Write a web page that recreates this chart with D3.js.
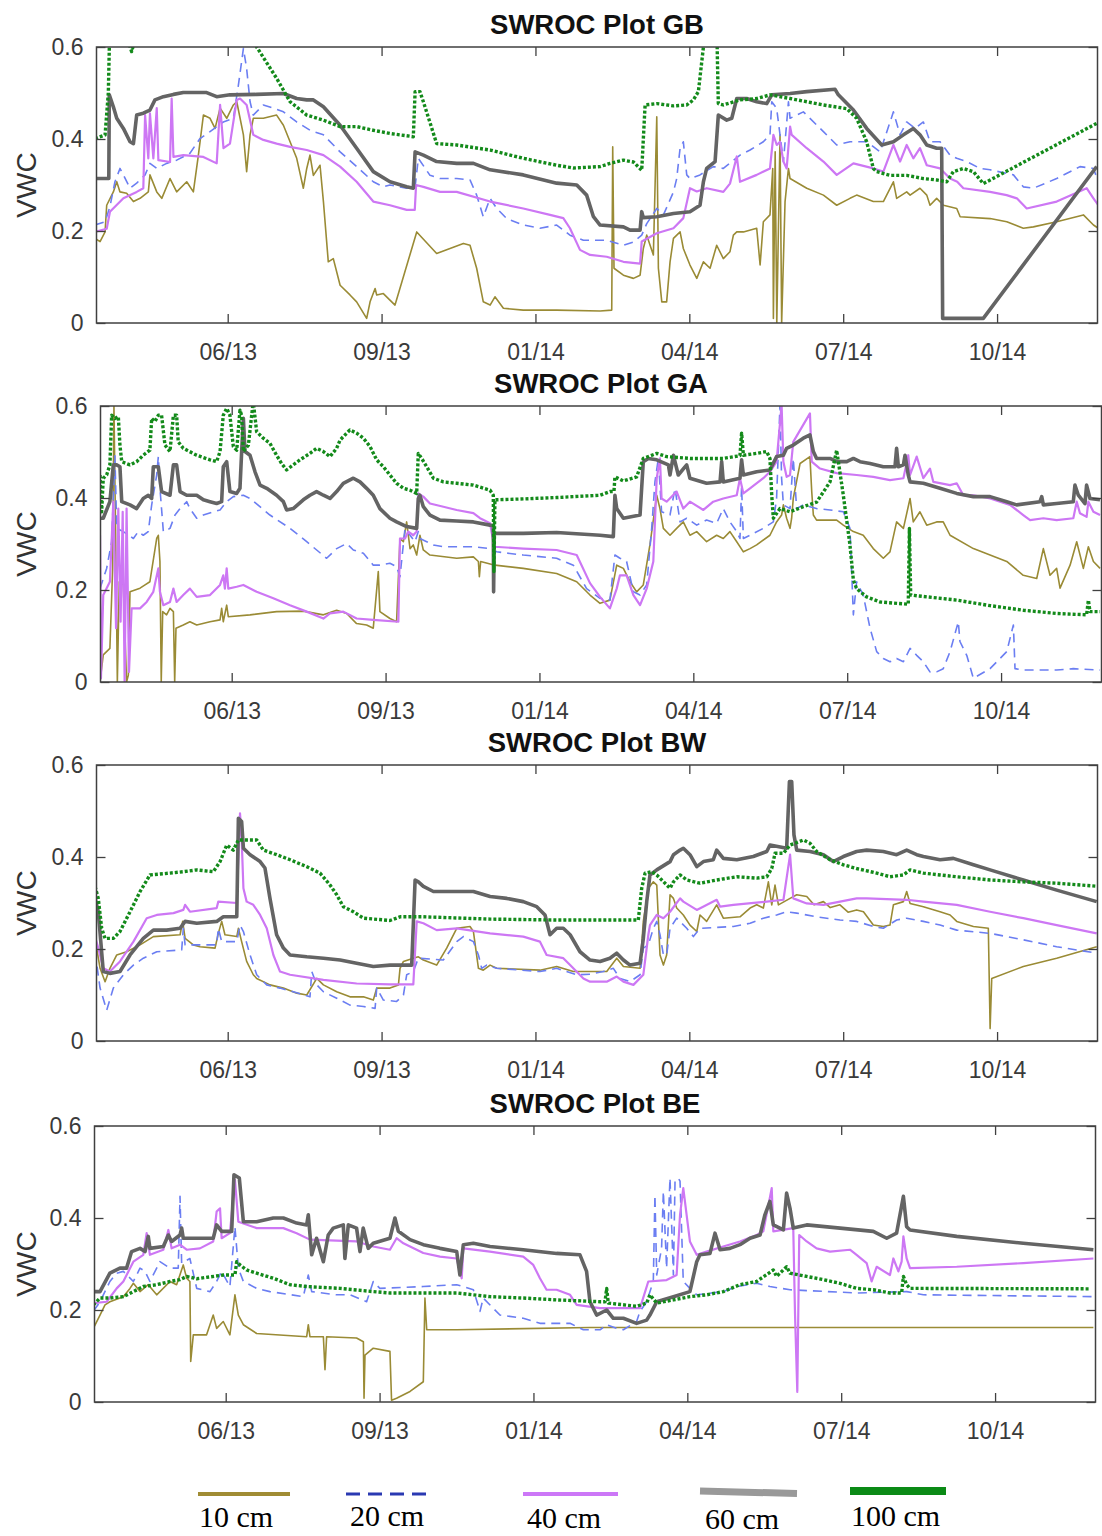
<!DOCTYPE html>
<html>
<head>
<meta charset="utf-8">
<script src="https://cdn.jsdelivr.net/npm/d3@7"></script>
<style>
  body { margin: 0; background: #fff; }
  svg { display: block; }
</style>
</head>
<body>
<svg id="chart" width="1102" height="1536"></svg>
<script>
// Time axis: day numbers counted from 1 Jan 2013; ticks every 95 days.
const dayDomain = [95, 713];
const tickDays = [176, 271, 366, 461, 556, 651];
const tickLabels = ["06/13", "09/13", "01/14", "04/14", "07/14", "10/14"];
const yTicks = [0, 0.2, 0.4, 0.6];
const depths = ["10 cm", "20 cm", "40 cm", "60 cm", "100 cm"];
const plotTitles = ["SWROC Plot GB", "SWROC Plot GA", "SWROC Plot BW", "SWROC Plot BE"];

// ---- Plot GB : [day, VWC] ----
const gb10 = [[94.1,.184],[97.2,.177],[100.3,.198],[101.3,.256],[105.4,.285],[107.5,.307],[109.5,.285],[113.6,.282],[117.8,.264],[121.9,.271],[127,.285],[128,.322],[132.2,.285],[135.3,.271],[140.4,.314],[144.5,.285],[150.7,.307],[154.8,.285],[157.9,.365],[161,.452],[165.1,.445],[168.2,.423],[171.3,.467],[175.4,.445],[179.5,.474],[181.6,.481],[185.7,.409],[187.7,.329],[189.8,.409],[191.8,.445],[198,.445],[206.2,.452],[210.4,.43],[214.5,.394],[218.6,.358],[222.7,.293],[224.8,.336],[226.8,.365],[228.9,.321],[233,.343],[235.1,.264],[238.1,.133],[241.2,.14],[245.4,.082],[251.5,.061],[255.6,.046],[261.8,.01],[263.9,.046],[267,.075],[268,.061],[272.1,.064],[279.3,.039],[292.7,.198],[305,.151],[321.5,.173],[325.6,.169],[329.7,.119],[333.8,.046],[338,.039],[341,.057],[346.2,.032],[358.5,.028],[379.1,.028],[405.9,.026],[413.1,.028],[413.7,.383],[414.5,.119],[420.3,.104],[426.5,.097],[430.6,.104],[432.6,.162],[434.7,.191],[438.8,.148],[440.9,.448],[441.9,.119],[444,.046],[447,.046],[449.1,.133],[451.2,.184],[455.3,.198],[457.3,.162],[461.4,.126],[465.6,.097],[469.7,.133],[473.8,.119],[477.9,.169],[482,.14],[486.1,.155],[488.2,.191],[490.3,.198],[494.4,.198],[502.6,.206],[504.7,.126],[506.7,.22],[510.8,.235],[512.5,.336],[512.9,.01],[514,.372],[515,0],[517,.409],[518,0],[520.1,.264],[522.2,.336],[523.2,.314],[533.5,.293],[543.8,.278],[552,.256],[560.2,.271],[564.3,.278],[574.6,.264],[580.8,.264],[587,.307],[589,.271],[595.2,.285],[597.3,.278],[603.4,.293],[607.6,.278],[609.6,.256],[613.7,.271],[617.9,.256],[626.1,.249],[628.2,.231],[646.7,.227],[657,.22],[667.2,.206],[673.4,.209],[687.8,.22],[704.3,.235],[710.5,.213],[713.5,.206]];
const gb20 = [[94.1,.213],[100.3,.22],[103.3,.253],[106.4,.307],[109.5,.336],[111.6,.322],[115.7,.293],[119.8,.304],[125,.322],[128,.347],[132.2,.336],[138.3,.347],[144.5,.354],[152.7,.369],[158.9,.401],[165.1,.416],[173.3,.437],[179.5,.445],[182.6,.517],[185.7,.597],[187.7,.553],[189.8,.481],[191.8,.452],[198,.474],[204.2,.467],[210.4,.459],[218.6,.437],[226.8,.419],[235.1,.409],[245.4,.372],[255.6,.34],[265.9,.307],[272.1,.296],[276.2,.3],[286.5,.293],[291.7,.296],[293.7,.358],[300.9,.321],[307.1,.314],[317.4,.314],[325.6,.311],[329.7,.278],[333.8,.231],[338,.271],[342.1,.249],[348.3,.227],[358.5,.213],[368.8,.206],[379.1,.213],[387.3,.191],[395.6,.18],[410,.18],[420.3,.169],[426.5,.176],[431.6,.191],[434.7,.216],[440.9,.249],[445,.235],[451.2,.285],[453.2,.314],[455.3,.38],[457.3,.394],[459.4,.322],[461.4,.314],[467.6,.322],[475.8,.34],[482,.336],[492.3,.365],[498.5,.376],[506.7,.394],[510.8,.409],[511.9,.481],[514.9,.467],[519.1,.351],[522.2,.481],[523.2,.445],[531.4,.459],[543.8,.416],[552,.387],[560.2,.394],[570.5,.394],[578.8,.372],[587,.459],[591.1,.409],[595.2,.437],[600.4,.423],[605.5,.437],[609.6,.394],[615.8,.394],[621.9,.365],[626.1,.358],[632.3,.351],[640.5,.336],[646.7,.333],[661.1,.322],[667.2,.296],[673.4,.293],[687.8,.314],[702.2,.34],[710.5,.336],[713.5,.307]];
const gb40 = [[94.1,.198],[101.3,.205],[103.3,.242],[111.6,.271],[119.8,.285],[123.9,.293],[125,.452],[127,.358],[128,.456],[130.1,.358],[132.2,.467],[133.2,.354],[140.4,.35],[141.4,.488],[142.5,.361],[148.6,.365],[161,.361],[169.2,.347],[171.3,.474],[173.4,.38],[177.4,.39],[181.6,.485],[183.6,.488],[187.7,.474],[191.8,.409],[198,.398],[206.2,.39],[214.5,.383],[224.8,.376],[235.1,.365],[245.4,.34],[255.6,.307],[265.9,.264],[276.2,.256],[286.5,.246],[291.5,.246],[292.3,.3],[296.8,.296],[307.1,.285],[317.4,.285],[338,.264],[358.5,.249],[375,.235],[383.2,.228],[387.3,.206],[393.5,.159],[399.7,.148],[410,.144],[420.3,.133],[430.6,.129],[431.6,.177],[440.9,.195],[451.2,.206],[457.3,.228],[461.4,.293],[465.6,.286],[471.7,.293],[482,.285],[486.1,.303],[490.3,.362],[492.3,.307],[502.6,.322],[510.8,.336],[512.9,.409],[515,.387],[517,.394],[519.1,.351],[521.1,.336],[523.2,.427],[524.2,.409],[533.5,.38],[543.8,.351],[552,.322],[562.3,.347],[574.6,.336],[580.8,.329],[587,.387],[591.1,.351],[595.2,.387],[599.3,.358],[603.4,.38],[607.6,.343],[615.8,.336],[622,.314],[626.4,.307],[630.2,.293],[646.7,.285],[656.9,.278],[663.2,.271],[669.3,.249],[687.8,.264],[706.3,.293],[710.5,.271],[713.5,.256]];
const gb60 = [[94.1,.314],[102.6,.314],[102.9,.496],[105.4,.47],[107.5,.445],[111.6,.423],[115.7,.394],[117.8,.39],[119.8,.452],[123.9,.456],[128,.463],[131.1,.485],[136.3,.492],[142.5,.497],[148.6,.501],[163,.501],[169.2,.492],[177.4,.496],[193.9,.497],[210.4,.499],[218.6,.488],[224.8,.485],[228.9,.485],[235.1,.47],[245.4,.43],[255.6,.38],[265.9,.329],[276.2,.307],[286.5,.296],[290.6,.293],[291.7,.372],[296.8,.365],[305,.351],[317.4,.347],[327.7,.347],[338,.333],[358.5,.322],[379.1,.304],[391.5,.3],[397.6,.278],[401.8,.231],[405.9,.213],[420.3,.209],[424.4,.202],[430.6,.202],[431.6,.242],[432.6,.229],[440.9,.231],[451.2,.238],[461.4,.242],[467.6,.256],[469.7,.307],[471.7,.336],[476.9,.351],[478.9,.452],[484.1,.441],[487.2,.445],[490.3,.488],[496.4,.488],[502.6,.481],[508.8,.477],[511.9,.496],[523.2,.499],[533.5,.503],[551,.508],[553,.496],[562.3,.463],[570.5,.423],[579.8,.387],[587,.394],[593.2,.409],[599.3,.423],[603.4,.409],[607.6,.387],[613.7,.38],[616.8,.38],[617.4,.01],[642.5,.01],[712.5,.34]];
const gb100 = [[94.1,.401],[100.3,.409],[102.3,.5],[103.3,.66],[112,.64],[116.7,.59],[119,.62],[125,.7],[150,.78],[180,.7],[190,.64],[193.9,.6],[206.2,.532],[214.5,.481],[224.8,.452],[235.1,.441],[245.4,.427],[255.6,.427],[265.9,.419],[276.2,.412],[290.6,.405],[291.7,.503],[294.7,.503],[296.8,.481],[305,.39],[317.4,.387],[338,.376],[358.5,.358],[379.1,.343],[389.4,.337],[405.9,.34],[412.1,.347],[420.3,.354],[426.5,.35],[431.6,.332],[433.7,.474],[440.9,.477],[451.2,.472],[459.4,.474],[463.5,.485],[466.6,.503],[469.7,.6],[472,.72],[476,.72],[477.9,.65],[478.9,.477],[482,.474],[492.3,.485],[502.6,.488],[510.8,.496],[523.2,.488],[533.5,.481],[543.8,.474],[558.2,.466],[564.3,.445],[570.5,.394],[574.6,.336],[576.7,.329],[584.9,.321],[595.2,.321],[605.5,.314],[613.7,.311],[619.9,.307],[624,.329],[630.2,.336],[636.4,.329],[642.5,.303],[712.5,.434]];

// ---- Plot GA ----
const ga10 = [[94.7,0],[96.7,.059],[100.8,.073],[102.5,.247],[103.3,.602],[104.6,.247],[105.4,0],[106.6,.218],[109.1,.211],[111.1,0],[112.2,.015],[113.2,.196],[119.4,.204],[122.5,.211],[125.5,.218],[129.7,.312],[130.7,.319],[131.7,.262],[132.5,0],[133.4,.153],[135.8,.146],[137.9,.16],[140,.153],[140.8,0],[141.6,.117],[146.1,.124],[150.2,.131],[154.4,.124],[162.6,.131],[168.8,.135],[169.8,.16],[170.8,.131],[172.9,.167],[173.9,.142],[187.3,.146],[203.7,.153],[220.2,.154],[232.6,.146],[240.8,.156],[247,.149],[253.1,.127],[259.3,.124],[263.4,.117],[266.5,.24],[267.5,.153],[273.7,.138],[277.8,.131],[279.9,.312],[282,.305],[284,.348],[286.1,.29],[288.1,.298],[290.2,.276],[292.2,.319],[294.3,.287],[298.4,.276],[314.9,.269],[325.2,.272],[328.3,.262],[328.9,.229],[329.7,.262],[338.5,.254],[356,.247],[376.6,.236],[389,.218],[397.2,.189],[403.4,.171],[409.5,.178],[413.7,.254],[417.8,.247],[421.9,.218],[426,.196],[430.1,.211],[434.2,.298],[438.4,.406],[440.4,.377],[442.5,.334],[446.6,.319],[450.7,.334],[454.8,.348],[458.9,.319],[463.1,.327],[469.2,.305],[475.4,.319],[479.5,.312],[483.6,.327],[487.8,.305],[491.9,.283],[496,.29],[500.1,.298],[508.3,.319],[512.4,.348],[515.5,.363],[516.6,.385],[518.6,.356],[520.7,.334],[521.7,.356],[522.7,.399],[526.9,.475],[533,.49],[534.1,.414],[535.1,.363],[537.1,.352],[549.5,.352],[553.6,.341],[559.8,.327],[565.9,.319],[572.1,.29],[578.3,.269],[582.4,.283],[586.5,.348],[590.7,.334],[594.8,.399],[596.8,.348],[600.9,.37],[605.1,.341],[611.2,.348],[615.3,.348],[619.5,.319],[633.9,.29],[654.5,.262],[664.7,.232],[673,.225],[677.1,.29],[681.2,.232],[685.3,.247],[687.4,.204],[693.6,.254],[697.7,.305],[701.8,.247],[704.9,.294],[708,.262],[712.1,.247]];
const ga20 = [[94.7,.203],[98.8,.247],[101.9,.305],[103.9,.493],[105,.334],[109.1,.327],[115.3,.312],[118.3,.327],[121.4,.319],[124.5,.327],[126.6,.385],[129.7,.45],[130.7,.49],[131.7,.421],[133.8,.327],[137.9,.334],[141,.363],[144.1,.377],[148.2,.392],[150.2,.377],[154.4,.356],[158.5,.363],[164.6,.37],[168.8,.374],[172.9,.392],[177,.403],[183.2,.406],[187.3,.399],[199.6,.363],[212,.334],[222.3,.305],[234.6,.269],[240.8,.29],[247,.301],[251.1,.287],[257.3,.28],[263.4,.254],[267.5,.254],[273.7,.258],[277.8,.251],[279.9,.229],[283,.334],[286.1,.319],[289.2,.305],[291.2,.327],[292.2,.312],[296.4,.305],[300.5,.298],[306.7,.294],[325.2,.294],[335.5,.29],[339.6,.283],[356,.276],[376.6,.269],[386.9,.254],[395.1,.203],[403.4,.182],[409.5,.178],[412.6,.276],[415.7,.269],[419.8,.262],[424,.196],[428.1,.189],[432.2,.211],[435.3,.334],[437.3,.435],[439.4,.486],[441.4,.37],[446.6,.363],[449.7,.421],[452.8,.348],[456.9,.356],[463.1,.341],[469.2,.352],[475.4,.345],[479.5,.377],[483.6,.348],[487.8,.327],[489.8,.312],[490.8,.425],[491.9,.312],[496,.319],[504.2,.334],[510.4,.348],[512.4,.399],[514.5,.602],[515.5,.443],[516.6,.385],[520.7,.377],[522.7,.486],[524.8,.377],[528.9,.385],[537.1,.377],[545.4,.374],[553.6,.37],[557.7,.334],[559.8,.146],[561.8,.218],[565.9,.189],[570.1,.117],[574.2,.066],[578.3,.051],[582.4,.044],[586.5,.051],[590.7,.044],[594.8,.073],[598.9,.058],[603,.044],[607.1,.022],[611.2,.022],[615.3,.029],[619.5,.066],[624.6,.131],[625.6,.088],[629.8,.058],[633.9,.008],[644.2,.029],[654.5,.066],[658.6,.124],[659.6,.029],[664.7,.026],[685.3,.026],[695.6,.029],[712.1,.026]];
const ga40 = [[94.7,.319],[95.3,.008],[96.7,.189],[100.8,.218],[102.9,.392],[104.6,.117],[106,.377],[107.4,.131],[108.7,.37],[109.9,0],[111.1,.377],[112.6,.022],[114.2,.16],[119.4,.16],[123.5,.174],[127.6,.196],[130.7,.247],[131.7,.196],[133.8,.167],[137.9,.174],[140,.203],[142,.174],[146.1,.189],[150.2,.203],[154.4,.185],[162.6,.189],[168.8,.211],[170.8,.232],[171.8,.203],[172.9,.247],[173.9,.203],[179.1,.207],[183.2,.211],[191.4,.196],[201.7,.182],[212,.167],[222.3,.153],[232.6,.138],[236.7,.149],[244.9,.153],[253.1,.138],[263.4,.135],[278.9,.131],[279.9,.312],[283,.312],[285,.327],[288.1,.319],[290.2,.327],[291.2,.41],[294.3,.403],[298.4,.388],[306.7,.381],[314.9,.374],[325.2,.367],[329.3,.356],[335.5,.345],[338.1,.294],[356,.29],[376.6,.287],[389,.276],[397.2,.215],[403.4,.185],[409.5,.16],[413.7,.203],[415.7,.232],[419.8,.232],[424,.189],[428.1,.167],[432.2,.203],[436.3,.262],[438.4,.443],[440.4,.486],[441.4,.399],[444.5,.392],[450.7,.414],[454.8,.377],[458.9,.392],[467.2,.374],[473.3,.392],[479.5,.399],[487.8,.406],[489.8,.443],[491.9,.41],[496,.421],[504.2,.443],[508.3,.457],[512.4,.479],[515.5,.602],[516.6,.479],[518.6,.446],[520.7,.45],[522.7,.522],[533,.584],[534.1,.479],[539.2,.464],[549.5,.454],[561.8,.45],[572.1,.446],[582.4,.439],[590.7,.443],[593.7,.493],[594.8,.45],[598.9,.49],[603,.443],[607.1,.464],[609.2,.435],[619.5,.428],[623.6,.432],[627.7,.406],[633.9,.406],[644.2,.399],[656.5,.385],[664.7,.363],[668.9,.352],[677.1,.356],[685.3,.352],[695.6,.356],[697.7,.392],[699.7,.367],[703.8,.359],[704.9,.392],[708,.37],[712.1,.363]];
const ga60 = [[94.7,.356],[96.7,.356],[100.8,.392],[102.9,.472],[105,.472],[107,.468],[108.1,.392],[113.2,.385],[117.3,.377],[121.4,.399],[124.5,.406],[126.6,.399],[127.6,.468],[130.7,.468],[132.7,.414],[137.9,.406],[140,.472],[142,.472],[144.1,.414],[148.2,.406],[154.4,.406],[158.5,.396],[162.6,.392],[166.7,.388],[169.8,.392],[170.8,.468],[172.9,.479],[174.9,.414],[179.1,.41],[181.1,.421],[182.1,.497],[183.2,.573],[184.2,.501],[187.3,.493],[190.4,.457],[193.5,.428],[197.6,.421],[203.7,.406],[207.9,.392],[209.9,.374],[214,.377],[220.2,.396],[224.3,.406],[228.4,.414],[232.6,.406],[236.7,.399],[240.8,.414],[244.9,.432],[251.1,.443],[255.2,.435],[259.3,.421],[263.4,.406],[267.5,.377],[273.7,.356],[277.8,.348],[284,.338],[290.2,.334],[291.2,.399],[292.2,.406],[294.3,.381],[298.4,.363],[304.6,.352],[314.9,.35],[325.2,.348],[335.5,.341],[337.5,.34],[337.7,.196],[338.1,.323],[356,.323],[376.6,.325],[403.4,.319],[411.6,.316],[412.6,.406],[413.7,.377],[417.8,.356],[428.1,.363],[430.1,.479],[433.2,.486],[438.4,.483],[445.6,.472],[446.6,.45],[448.7,.493],[451.7,.45],[456.9,.472],[458.9,.443],[469.2,.432],[477.5,.435],[478.5,.479],[479.5,.435],[489.8,.443],[490.8,.483],[491.9,.45],[500.1,.457],[508.3,.461],[512.4,.49],[516.6,.493],[518.6,.508],[522.7,.515],[528.9,.53],[533,.537],[535.1,.501],[537.1,.486],[545.4,.486],[549.5,.479],[555.7,.479],[559.8,.486],[563.9,.479],[570.1,.475],[578.3,.468],[585.5,.468],[586.5,.508],[587.6,.468],[590.7,.472],[591.7,.493],[593.7,.45],[594.8,.435],[603,.432],[613.3,.421],[623.6,.41],[633.9,.403],[644.2,.403],[654.5,.392],[660.6,.385],[675,.392],[676.1,.403],[677.1,.385],[685.3,.388],[695.6,.392],[696.6,.428],[698.7,.406],[702.8,.388],[703.8,.428],[705.9,.399],[712.1,.396]];
const ga100 = [[94.7,.45],[95.7,.37],[96.7,.443],[98.8,.45],[100.8,.472],[101.9,.58],[103.9,.573],[106,.577],[107,.515],[108.1,.479],[113.2,.472],[117.3,.479],[121.4,.493],[125.5,.504],[126.6,.573],[128.6,.566],[130.7,.58],[132.7,.58],[134.8,.515],[137.9,.501],[140,.58],[142,.58],[143,.522],[146.1,.508],[154.4,.493],[162.6,.483],[166.7,.479],[168.8,.501],[170.8,.58],[172.9,.595],[174.9,.58],[177,.512],[179.1,.504],[181.1,.591],[182.1,.58],[183.2,.501],[186.3,.515],[189.3,.61],[191.4,.544],[195.5,.53],[199.6,.519],[203.7,.493],[206.8,.475],[209.9,.461],[214,.472],[218.2,.483],[224.3,.497],[228.4,.508],[232.6,.501],[236.7,.49],[240.8,.508],[242.9,.526],[249,.548],[253.1,.541],[257.3,.53],[261.4,.512],[265.5,.483],[269.6,.468],[273.7,.45],[277.8,.432],[282,.421],[286.1,.417],[290.2,.41],[291.2,.497],[293.3,.486],[296.4,.468],[300.5,.443],[306.7,.435],[314.9,.432],[325.2,.428],[335.5,.417],[337.5,.406],[337.9,.24],[338.5,.396],[356,.398],[376.6,.401],[403.4,.406],[409.5,.414],[412,.414],[412.6,.446],[417.8,.437],[426,.446],[430.1,.486],[438.4,.497],[444.5,.49],[459,.486],[479.5,.486],[489.8,.492],[490.8,.541],[491.9,.493],[500.1,.497],[506.3,.501],[508.3,.486],[509.4,.406],[510.4,.356],[514.5,.377],[520.7,.37],[528.9,.381],[537.1,.391],[545.4,.435],[549.5,.504],[553.6,.406],[557.7,.298],[559.8,.222],[561.8,.203],[568,.185],[576.2,.174],[593.7,.169],[594.4,.334],[595.2,.189],[623.6,.178],[644.2,.166],[664.7,.156],[685.3,.149],[703.8,.146],[704.9,.178],[705.9,.153],[712.1,.153]];

// ---- Plot BW ----
const bw10 = [[94.1,.223],[97.2,.158],[100.3,.129],[103.3,.158],[107.5,.187],[113.6,.194],[121.9,.209],[130.1,.227],[146.6,.231],[148.2,.26],[149.7,.223],[154.8,.209],[158.9,.205],[168.2,.202],[170.2,.234],[172.3,.26],[174.3,.231],[181.6,.227],[182.6,.245],[184.6,.216],[187.7,.173],[191.8,.144],[193.9,.136],[202.1,.122],[210.4,.115],[218.6,.104],[224.8,.1],[231,.136],[235.1,.122],[243.3,.107],[251.5,.096],[259.8,.096],[265.9,.089],[268,.115],[276.2,.115],[281.4,.122],[282.4,.158],[284.5,.173],[290.6,.18],[293.7,.183],[296.8,.176],[305,.165],[311.2,.202],[317.4,.245],[325.6,.249],[327.7,.238],[330.8,.158],[333.8,.154],[338,.165],[342.1,.158],[368.8,.154],[379.1,.162],[389.4,.151],[399.7,.151],[410,.151],[416.2,.18],[420.3,.162],[430.6,.158],[432.6,.26],[435.7,.332],[438.8,.346],[440.9,.339],[442.9,.187],[445,.165],[447,.187],[449.1,.318],[451.2,.31],[453.2,.289],[457.3,.274],[461.4,.252],[465.6,.238],[467.6,.274],[471.7,.26],[477.9,.296],[482,.267],[492.3,.27],[498.5,.289],[502.6,.296],[506.7,.289],[509.8,.346],[511.9,.296],[513.9,.339],[516,.296],[523.2,.31],[527.3,.318],[533.5,.314],[538,.296],[543.8,.303],[548,.29],[554,.296],[559,.28],[564.3,.285],[568.5,.281],[574.6,.252],[580.8,.249],[584.9,.252],[587,.296],[593.2,.303],[595.2,.325],[597.3,.299],[605.5,.292],[615.8,.281],[622,.274],[626.1,.26],[636.4,.249],[645.6,.245],[646.7,.027],[647.7,.136],[667.2,.162],[687.8,.18],[712.5,.205]];
const bw20 = [[94.1,.194],[97.2,.115],[101.3,.067],[105.4,.115],[111.6,.144],[117.8,.165],[123.9,.18],[132.2,.194],[147.6,.198],[148.6,.245],[149.7,.209],[169.2,.209],[170.2,.245],[172.3,.216],[181.6,.216],[183.6,.252],[185.7,.238],[189.8,.187],[193.9,.144],[200.1,.122],[208.3,.115],[216.5,.107],[226.8,.096],[227.9,.151],[231,.122],[235.1,.107],[243.3,.093],[251.5,.078],[259.8,.075],[267,.071],[268,.115],[272.1,.089],[280.3,.086],[284.5,.1],[286.5,.144],[290.6,.151],[293.7,.18],[309.1,.176],[317.4,.216],[321.5,.227],[327.7,.216],[330.8,.187],[332.8,.158],[335.9,.165],[342.1,.158],[368.8,.151],[379.1,.158],[391.5,.144],[399.7,.145],[407.9,.151],[414.1,.158],[418.2,.136],[424.4,.129],[430.6,.144],[432.6,.202],[435.7,.209],[438.8,.245],[440.9,.26],[442.9,.231],[445,.187],[447,.187],[449.1,.245],[453.2,.267],[459.4,.245],[463.5,.227],[467.6,.245],[488.2,.249],[498.5,.256],[506.7,.267],[514.9,.274],[521.1,.281],[527.3,.278],[539.6,.27],[554,.263],[564.3,.26],[574.6,.249],[580.8,.245],[589,.263],[595.2,.267],[605.5,.26],[615.8,.252],[626.1,.241],[646.7,.234],[667.2,.22],[687.8,.205],[712.5,.191]];
const bw40 = [[94.1,.227],[96.1,.202],[99.2,.158],[103.3,.151],[109.5,.173],[117.8,.216],[126,.267],[132.2,.274],[142.5,.278],[148.6,.285],[149.7,.296],[152.7,.281],[169.2,.289],[170.2,.303],[181.6,.3],[183.6,.495],[184.6,.441],[185.7,.332],[187.7,.303],[191.8,.296],[196,.274],[200.1,.245],[204.2,.187],[208.3,.151],[214.5,.144],[235.1,.133],[255.6,.125],[276.2,.123],[290.6,.123],[292.7,.26],[296.8,.256],[305,.241],[317.4,.245],[338,.234],[358.5,.227],[368.8,.216],[372.9,.187],[383.2,.18],[387.4,.165],[395.6,.136],[399.7,.129],[410,.129],[416.2,.14],[420.3,.129],[426.5,.122],[432.6,.144],[435.7,.231],[436.7,.252],[440.9,.274],[445,.267],[449.1,.281],[455.3,.31],[457.3,.303],[465.6,.285],[477.9,.307],[480,.292],[488.2,.296],[508.8,.303],[519.1,.307],[523.2,.405],[525.2,.31],[533.5,.299],[543.8,.296],[564.3,.31],[570.5,.31],[595.2,.307],[605.5,.303],[626.1,.296],[646.7,.281],[667.2,.267],[687.8,.252],[712.5,.234]];
const bw60 = [[94.1,.31],[96.1,.281],[99.2,.151],[103.3,.147],[109.5,.151],[115.7,.187],[123.9,.223],[130.1,.241],[138.3,.241],[146.6,.245],[149.7,.26],[156.9,.256],[169.2,.26],[173.3,.27],[181.6,.27],[182.6,.484],[184.6,.477],[185.7,.419],[189.8,.405],[196,.39],[199,.376],[202.1,.31],[206.2,.231],[210.4,.202],[214.5,.187],[224.8,.183],[235.1,.18],[245.4,.176],[255.6,.169],[265.9,.162],[276.2,.165],[289.6,.165],[291.7,.35],[293.7,.346],[296.8,.336],[303,.325],[327.7,.325],[338,.314],[348.3,.31],[358.5,.303],[366.8,.292],[371.9,.274],[375,.231],[379.1,.245],[383.2,.245],[387.4,.231],[393.5,.194],[399.7,.176],[405.9,.173],[412,.18],[416.2,.191],[420.3,.176],[424.4,.165],[430.6,.169],[432.6,.223],[434.7,.303],[436.7,.361],[440.9,.372],[449.1,.39],[451.2,.405],[455.3,.415],[457.3,.419],[461.4,.405],[465.6,.379],[469.7,.39],[475.8,.394],[477.9,.415],[482,.397],[490.3,.394],[500.5,.401],[508.8,.412],[510.8,.426],[521.1,.419],[522.8,.564],[524.2,.564],[525.6,.448],[527.3,.415],[535.5,.412],[543.8,.405],[549.9,.39],[556.1,.401],[564.3,.412],[570.5,.415],[580.8,.412],[589,.405],[595.2,.415],[601.4,.405],[605.5,.401],[615.8,.394],[624,.397],[636.4,.383],[646.7,.372],[667.2,.35],[687.8,.328],[712.5,.303]];
const bw100 = [[94.1,.336],[96.1,.31],[98.2,.245],[100.3,.223],[105.4,.223],[109.5,.238],[115.7,.281],[121.9,.325],[128,.361],[140.4,.365],[148.6,.368],[156.9,.372],[167.1,.368],[171.3,.39],[175.4,.426],[179.5,.415],[182.6,.437],[193.9,.437],[198,.415],[206.2,.405],[214.5,.394],[224.8,.379],[233,.365],[239.2,.339],[243.3,.318],[247.4,.292],[253.6,.281],[259.8,.267],[276.2,.262],[282.4,.27],[296.8,.27],[338,.265],[379.1,.263],[399.7,.263],[429.5,.263],[431.6,.332],[433.7,.365],[437.8,.368],[440.9,.361],[449.1,.332],[451.2,.346],[455.3,.361],[459.4,.35],[467.6,.343],[477.9,.35],[490.3,.357],[502.6,.354],[508.8,.357],[511.9,.375],[513.9,.408],[519.1,.408],[523.2,.426],[531.4,.437],[535.5,.43],[539.6,.412],[547.9,.394],[556.1,.383],[564.3,.375],[576.7,.365],[584.9,.357],[593.2,.361],[597.3,.372],[605.5,.365],[615.8,.361],[626.1,.357],[646.7,.35],[667.2,.346],[687.8,.343],[714.6,.336]];

// ---- Plot BE ----
const be10 = [[94.3,.16],[98.4,.189],[101.5,.211],[104.5,.218],[112.8,.229],[116.9,.247],[119,.258],[123.1,.24],[128.2,.255],[133.4,.233],[141.6,.262],[145.7,.255],[149.8,.298],[151.9,.269],[153.9,.262],[154.4,.088],[156,.146],[164.2,.146],[168.3,.189],[170.4,.16],[174.5,.175],[178.6,.146],[181.7,.233],[183.8,.189],[186.9,.168],[195.1,.149],[226,.142],[227,.168],[228,.142],[236.3,.142],[237.3,.07],[238.3,.142],[256.8,.139],[261,.131],[261.4,.008],[262,.102],[267.1,.117],[277.4,.11],[278.4,.004],[281.5,.008],[289.8,.023],[298,.044],[299,.226],[300.1,.157],[318.6,.157],[400.9,.162],[711.7,.162]];
const be20 = [[94.3,.197],[98.4,.218],[104.5,.262],[108.7,.28],[112.8,.284],[119,.262],[123.1,.291],[126.2,.284],[129.2,.262],[135.4,.305],[141.6,.291],[146.7,.291],[147.8,.447],[148.8,.302],[153.9,.312],[158.1,.247],[166.3,.24],[170.4,.262],[173.5,.284],[178.6,.251],[181.7,.381],[183.8,.291],[186.9,.262],[195.1,.247],[203.3,.24],[223.9,.229],[227,.276],[229.1,.24],[244.5,.233],[252.7,.233],[263,.218],[267.1,.262],[271.2,.247],[298,.251],[318.6,.255],[328.9,.244],[333,.197],[335,.226],[339.2,.211],[345.3,.189],[359.7,.182],[370,.171],[388.6,.171],[396.8,.157],[407.1,.157],[411.2,.168],[417.4,.16],[421.5,.157],[429.7,.175],[431.8,.197],[435.9,.218],[440,.262],[441,.45],[442.1,.276],[445.1,.334],[446.2,.458],[448.2,.291],[450.3,.487],[452.4,.276],[453.4,.48],[455.4,.487],[456.5,.48],[458.5,.262],[462.6,.247],[466.8,.233],[483.2,.24],[491.5,.251],[503.8,.258],[512,.251],[524.4,.244],[565.5,.237],[596.4,.24],[606.7,.233],[711.7,.229]];
const be40 = [[94.3,.215],[102.5,.218],[108.7,.247],[112.8,.262],[119,.305],[125.1,.32],[127.2,.367],[129.2,.32],[137.5,.331],[140.6,.374],[142.6,.334],[147.8,.342],[151.9,.331],[160.1,.334],[168.3,.349],[170.4,.414],[172.5,.421],[173.5,.356],[178.6,.367],[181.7,.483],[183.8,.392],[195.1,.378],[211.6,.378],[219.8,.367],[228,.353],[256.8,.349],[267.1,.338],[277.4,.331],[281.5,.356],[285.7,.345],[298,.324],[308.3,.316],[318.6,.312],[321.7,.269],[322.7,.334],[339.2,.327],[359.7,.316],[365.9,.298],[370,.269],[374.1,.244],[380.3,.244],[388.6,.233],[392.7,.211],[407.1,.204],[431.8,.204],[436.9,.262],[448.2,.265],[454.4,.276],[456.5,.407],[458.5,.465],[462.6,.349],[466.8,.32],[472.9,.327],[483.2,.338],[493.5,.349],[503.8,.363],[507.9,.371],[513.1,.465],[514.1,.371],[526.4,.378],[527.5,.189],[528.9,.022],[530.1,.363],[534.7,.349],[540.8,.334],[549.1,.327],[561.4,.331],[565.5,.32],[571.7,.302],[574.8,.262],[577.9,.294],[586.1,.276],[588.2,.312],[591.3,.284],[593.3,.305],[594.4,.36],[596.4,.312],[598.5,.291],[627.3,.294],[668.4,.302],[711.7,.312]];
const be60 = [[94.3,.24],[98.4,.24],[104.5,.28],[110.7,.291],[114.8,.291],[117.9,.327],[123.1,.334],[126.2,.327],[128.2,.36],[129.2,.334],[137.5,.338],[140.6,.363],[142.6,.349],[147.8,.363],[148.8,.378],[149.8,.356],[168.3,.356],[170.4,.385],[173.5,.371],[179.7,.371],[181.1,.494],[184.4,.487],[186.9,.392],[195.1,.392],[205.4,.4],[211.6,.4],[219.8,.389],[226,.385],[227,.407],[229.1,.32],[232.1,.356],[236.3,.305],[239.3,.363],[242.4,.378],[248.6,.385],[249.6,.312],[251.7,.385],[256.8,.378],[258.9,.327],[260.9,.378],[264,.334],[267.1,.345],[277.4,.356],[280.5,.4],[282.6,.371],[289.8,.353],[298,.342],[308.3,.334],[318.6,.327],[320.6,.276],[322.7,.342],[328.9,.345],[339.2,.338],[359.7,.331],[380.3,.323],[394.7,.32],[398.8,.284],[400.9,.218],[405,.189],[411.2,.2],[415.3,.182],[421.5,.182],[429.7,.171],[435.9,.178],[437.9,.189],[442.1,.218],[452.4,.229],[462.6,.24],[466.8,.305],[468.8,.32],[475,.323],[478.1,.367],[481.2,.331],[487.3,.334],[493.5,.342],[499.7,.356],[505.9,.363],[508.9,.407],[512,.436],[514.1,.385],[520.3,.374],[522.3,.454],[524.4,.421],[526.4,.378],[534.7,.385],[555.3,.378],[575.8,.371],[584.1,.356],[590.2,.367],[594.4,.447],[596.4,.381],[598.5,.374],[627.3,.36],[668.4,.345],[711.7,.331]];
const be100 = [[94.3,.211],[98.4,.226],[104.5,.226],[112.8,.229],[119,.24],[125.1,.251],[133.4,.255],[141.6,.262],[147.8,.266],[151.9,.273],[158.1,.268],[174.5,.276],[181.7,.276],[182.8,.305],[184.8,.298],[188.9,.287],[195.1,.28],[205.4,.269],[215.7,.255],[226,.251],[246.6,.247],[267.1,.24],[277.4,.237],[318.6,.237],[339.2,.229],[359.7,.226],[380.3,.222],[407.1,.218],[410.2,.218],[411.2,.247],[412.2,.215],[429.7,.208],[435.9,.215],[437.9,.233],[442.1,.215],[452.4,.222],[462.6,.229],[472.9,.233],[483.2,.24],[493.5,.255],[503.8,.262],[514.1,.287],[516.1,.273],[522.3,.294],[524.4,.28],[534.7,.273],[545,.266],[555.3,.258],[565.5,.247],[575.8,.244],[586.1,.237],[593.3,.237],[594.4,.273],[596.4,.255],[598.5,.247],[709.6,.246]];

const panels = [
  { title: plotTitles[0], series: [gb10, gb20, gb40, gb60, gb100] },
  { title: plotTitles[1], series: [ga10, ga20, ga40, ga60, ga100] },
  { title: plotTitles[2], series: [bw10, bw20, bw40, bw60, bw100] },
  { title: plotTitles[3], series: [be10, be20, be40, be60, be100] }
];

// ---- drawing ----
const svg = d3.select("#chart");
svg.append("rect").attr("width", 1102).attr("height", 1536).attr("fill", "#fff");

const plotW = 1001, plotH = 276;
const frames = [
  { left: 96.5, top: 47 },
  { left: 100.5, top: 406 },
  { left: 96.5, top: 765 },
  { left: 94.5, top: 1126 }
];
const lineStyles = [
  { color: "#9a8b35", width: 1.6, dash: null },
  { color: "#6b7ef2", width: 1.6, dash: "9,6" },
  { color: "#cd77f4", width: 2.2, dash: null },
  { color: "#646464", width: 3.6, dash: null },
  { color: "#138a1a", width: 3.4, dash: "3,2" }
];
const tickFont = "'Liberation Sans', Arial, Helvetica, sans-serif";

const x = d3.scaleLinear().domain(dayDomain).range([0, plotW]);
const y = d3.scaleLinear().domain([0, 0.6]).range([plotH, 0]);
const line = d3.line().x(d => x(d[0])).y(d => y(d[1]));

panels.forEach((panel, i) => {
  const f = frames[i];
  const g = svg.append("g").attr("transform", `translate(${f.left},${f.top})`);

  const clipId = "clip" + i;
  g.append("clipPath").attr("id", clipId)
    .append("rect").attr("width", plotW).attr("height", plotH);

  const lines = g.append("g").attr("clip-path", `url(#${clipId})`);
  panel.series.forEach((data, k) => {
    const s = lineStyles[k];
    lines.append("path")
      .datum(data)
      .attr("d", line)
      .attr("fill", "none")
      .attr("stroke", s.color)
      .attr("stroke-width", s.width)
      .attr("stroke-linejoin", "round")
      .attr("stroke-dasharray", s.dash);
  });

  // axes with inward ticks on all four sides
  const bottom = g.append("g").attr("transform", `translate(0,${plotH})`)
    .call(d3.axisBottom(x).tickValues(tickDays).tickFormat((d, j) => tickLabels[j])
      .tickSizeInner(-9).tickSizeOuter(0).tickPadding(21));
  const top = g.append("g")
    .call(d3.axisTop(x).tickValues(tickDays).tickFormat("").tickSizeInner(-9).tickSizeOuter(0));
  const left = g.append("g")
    .call(d3.axisLeft(y).tickValues(yTicks).tickFormat(d => d === 0 ? "0" : d3.format(".1f")(d))
      .tickSizeInner(-9).tickSizeOuter(0).tickPadding(13));
  const right = g.append("g").attr("transform", `translate(${plotW},0)`)
    .call(d3.axisRight(y).tickValues(yTicks).tickFormat("").tickSizeInner(-9).tickSizeOuter(0));

  [bottom, top, left, right].forEach(a => {
    a.select(".domain").remove();
    a.selectAll(".tick line").attr("stroke", "#404040").attr("stroke-width", 1.3);
    a.selectAll("text").attr("font-family", tickFont).attr("font-size", 23).attr("fill", "#3a3a3a");
  });

  g.append("rect")
    .attr("width", plotW).attr("height", plotH)
    .attr("fill", "none").attr("stroke", "#404040").attr("stroke-width", 1.5);

  g.append("text")
    .attr("x", plotW / 2).attr("y", -13.5)
    .attr("text-anchor", "middle")
    .attr("font-family", tickFont).attr("font-weight", "bold").attr("font-size", 27.5)
    .attr("fill", "#111")
    .text(panel.title);

  g.append("text")
    .attr("transform", `translate(${36 - f.left},${plotH / 2}) rotate(-90)`)
    .attr("text-anchor", "middle")
    .attr("font-family", tickFont).attr("font-size", 28).attr("fill", "#333")
    .text("VWC");
});

// ---- legend ----
const legendItems = [
  { x1: 198, x2: 290, y1: 1494, y2: 1494, color: "#a08c34", width: 4, dash: null, tx: 199, ty: 1527 },
  { x1: 346, x2: 430, y1: 1494, y2: 1494, color: "#2a39b2", width: 3, dash: "14,8", tx: 350, ty: 1526 },
  { x1: 523, x2: 618, y1: 1494, y2: 1494, color: "#cc77f7", width: 4, dash: null, tx: 527, ty: 1528 },
  { x1: 700, x2: 797, y1: 1491, y2: 1493.5, color: "#999999", width: 7, dash: null, tx: 705, ty: 1529 },
  { x1: 850, x2: 946, y1: 1491, y2: 1491, color: "#0b8a16", width: 8, dash: null, tx: 851, ty: 1526 }
];
const legend = svg.append("g");
legendItems.forEach((it, k) => {
  legend.append("line")
    .attr("x1", it.x1).attr("x2", it.x2).attr("y1", it.y1).attr("y2", it.y2)
    .attr("stroke", it.color).attr("stroke-width", it.width)
    .attr("stroke-dasharray", it.dash);
  legend.append("text")
    .attr("x", it.tx).attr("y", it.ty)
    .attr("font-family", "'Liberation Serif', 'Times New Roman', serif")
    .attr("font-size", 30).attr("fill", "#000")
    .text(depths[k]);
});
</script>
</body>
</html>
